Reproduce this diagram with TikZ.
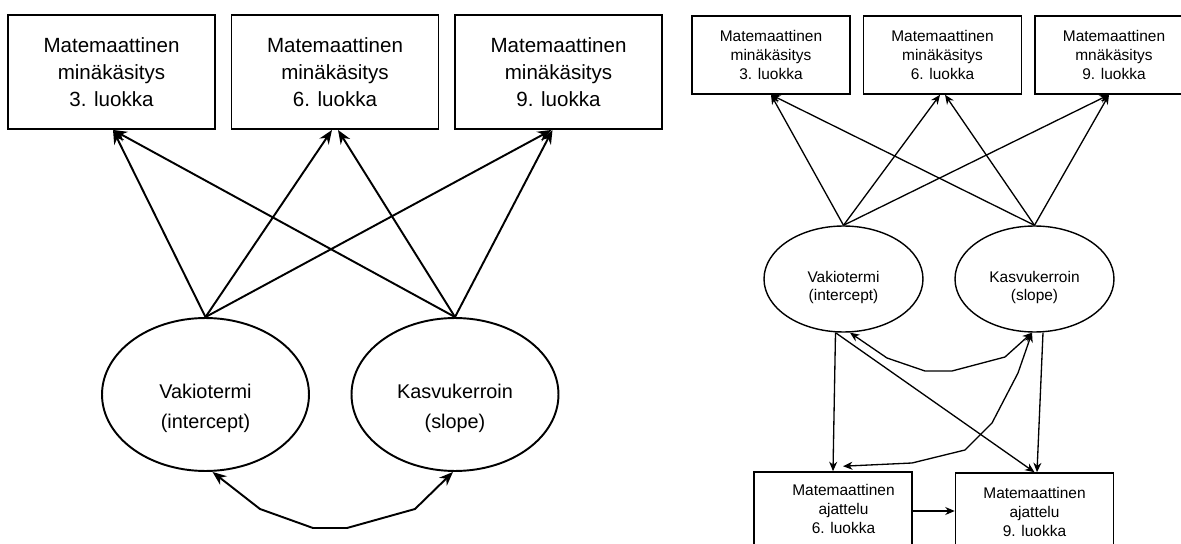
\documentclass[tikz,border=0pt]{standalone}
\usepackage{fontspec}
\setmainfont{Liberation Sans}
\usetikzlibrary{arrows.meta,shapes.geometric,calc}

\tikzset{
    bigbox/.style={draw, line width=1.1pt, minimum width=4.14cm, minimum height=2.28cm,
        inner sep=0pt, align=center, font=\fontsize{11.7}{15.4}\selectfont},
    bigell/.style={draw, ellipse, line width=1.1pt, minimum width=4.14cm, minimum height=3.06cm, inner sep=0pt},
    bigtxt/.style={align=center, font=\fontsize{11.3}{17}\selectfont},
    bigarr/.style={-{Stealth[length=0.28cm, width=0.22cm]}, line width=1.1pt},
    bigdbl/.style={{Stealth[length=0.28cm, width=0.22cm]}-{Stealth[length=0.28cm, width=0.22cm]}, line width=1.1pt},
    smallbox/.style={draw, line width=0.9pt, minimum width=3.16cm, minimum height=1.56cm,
        inner sep=0pt, align=center, font=\fontsize{8.8}{10.8}\selectfont},
    smallell/.style={draw, ellipse, line width=0.8pt, minimum width=3.18cm, minimum height=2.12cm, inner sep=0pt},
    smalltxt/.style={align=center, font=\fontsize{8.8}{10.8}\selectfont},
    smallarr/.style={-{Stealth[length=0.19cm, width=0.16cm]}, line width=0.75pt},
    smalldbl/.style={{Stealth[length=0.19cm, width=0.16cm]}-{Stealth[length=0.19cm, width=0.16cm]}, line width=0.75pt},
}

\begin{document}
\begin{tikzpicture}[x=0.02cm, y=-0.02cm]

    % Page size, in pixel units (y runs downwards)
    \useasboundingbox (0,0) rectangle (1181,544);
    \clip (0,0) rectangle (1181,544);

    % ---- Left model: growth of the self-concept only ----

    % Three measurement boxes
    \def\lspacing{223.5}
    \foreach \i/\lk in {1/3,2/6,3/9}{
        \pgfmathsetmacro{\x}{111.5+(\i-1)*\lspacing}
        \node[bigbox] (L\i) at (\x,72) {Matemaattinen\\minäkäsitys\\\lk. luokka};
    }

    % Intercept and slope
    \node[bigell, label={[bigtxt, yshift=-0.27cm]center:Vakiotermi\\(intercept)}] (LV) at (205.5,394.5) {};
    \node[bigell, label={[bigtxt, yshift=-0.27cm]center:Kasvukerroin\\(slope)}] (LK) at (455,394.5) {};

    % Loadings
    \foreach \src/\dst/\dx in {LV/L1/1.5, LV/L2/-3, LV/L3/-7, LK/L1/1.5, LK/L2/3, LK/L3/-6}
        \draw[bigarr] (\src.north) -- ($(\dst.south)+(\dx,0)$);

    % Covariance
    \draw[bigdbl] ($(LV.south)+(7,0)$) -- (260,509) -- (313,528) -- (347,528)
        -- (415,509) -- ($(LK.south)+(-2,0)$);

    % ---- Right model: with mathematical thinking ----

    \def\rspacing{171.5}
    \foreach \i/\lk/\mk in {1/3/minäkäsitys,2/6/minäkäsitys,3/9/mnäkäsitys}{
        \pgfmathsetmacro{\x}{771+(\i-1)*\rspacing}
        \node[smallbox] (R\i) at (\x,55) {Matemaattinen\\\mk\\\lk. luokka};
    }

    \node[smallell, label={[smalltxt, yshift=-0.17cm]center:Vakiotermi\\(intercept)}] (RV) at (843.5,279) {};
    \node[smallell, label={[smalltxt, yshift=-0.17cm]center:Kasvukerroin\\(slope)}] (RK) at (1034.5,279) {};

    \node[smallbox, label={[smalltxt, xshift=0.21cm, yshift=0.04cm]center:Matemaattinen\\ajattelu\\6. luokka}] (RA6) at (833,511) {};
    \node[smallbox] (RA9) at (1034.5,512) {Matemaattinen\\ajattelu\\9. luokka};

    \foreach \src/\dst/\dx in {RV/R1/0, RV/R2/-2.5, RV/R3/-5, RK/R1/0, RK/R2/2.5, RK/R3/-5}
        \draw[smallarr] (\src.north) -- ($(\dst.south)+(\dx,0)$);

    % Regressions on thinking
    \draw[smallarr] ($(RV.south)+(-8,0)$) -- (RA6.north);
    \draw[smallarr] ($(RV.south)+(-8,0)$) -- (RA9.north);
    \draw[smallarr] ($(RK.south)+(8.5,0)$) -- ($(RA9.north)+(2.5,0)$);
    \draw[smallarr] (RA6.east) -- (RA6.east -| RA9.west);

    % Covariances
    \draw[smalldbl] ($(RV.south)+(6.5,0)$) -- (887,358) -- (925,371) -- (952,371)
        -- (1005,357) -- ($(RK.south)+(-2.5,0)$);
    \draw[smalldbl] ($(RK.south)+(-2.5,0)$) -- (1018,373) -- (992,423) -- (965,450)
        -- (912,463) -- ($(RA6.north)+(10,-5)$);

\end{tikzpicture}
\end{document}
